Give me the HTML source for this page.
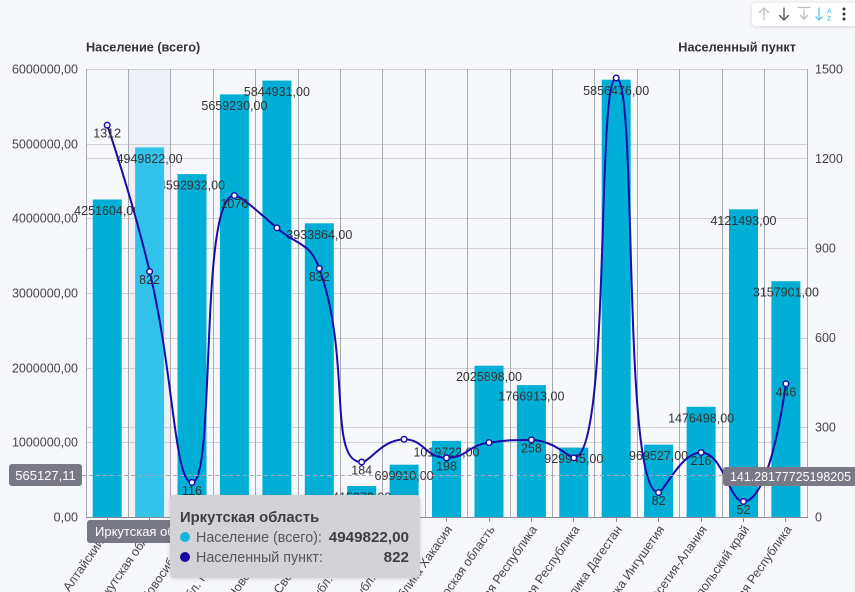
<!DOCTYPE html>
<html><head><meta charset="utf-8"><style>
html,body{margin:0;padding:0;background:#f7f8fc;width:855px;height:592px;overflow:hidden;}
svg{display:block;font-family:"Liberation Sans","Noto Sans CJK SC",sans-serif;}
</style></head><body>
<svg id="c" width="855" height="592" viewBox="0 0 855 592" xmlns="http://www.w3.org/2000/svg">
<defs>
<filter id="sh" x="-10%" y="-10%" width="120%" height="130%"><feDropShadow dx="0" dy="1" stdDeviation="2" flood-color="#000" flood-opacity="0.15"/></filter>
</defs>
<rect width="855" height="592" fill="#f7f8fc"/>
<rect x="128.4" y="69" width="42.4" height="448" fill="#eef0f8"/>
<g stroke="#d0d0d5" stroke-width="1">
<line x1="86" y1="69.5" x2="807" y2="69.5"/><line x1="86" y1="144.5" x2="807" y2="144.5"/><line x1="86" y1="218.5" x2="807" y2="218.5"/><line x1="86" y1="293.5" x2="807" y2="293.5"/><line x1="86" y1="368.5" x2="807" y2="368.5"/><line x1="86" y1="442.5" x2="807" y2="442.5"/>
<line x1="86" y1="158.5" x2="807" y2="158.5"/><line x1="86" y1="248.5" x2="807" y2="248.5"/><line x1="86" y1="338.5" x2="807" y2="338.5"/><line x1="86" y1="427.5" x2="807" y2="427.5"/>
</g>
<g stroke="#a9a9b2" stroke-width="1">
<line x1="86.5" y1="69" x2="86.5" y2="517"/><line x1="128.5" y1="69" x2="128.5" y2="517"/><line x1="170.5" y1="69" x2="170.5" y2="517"/><line x1="213.5" y1="69" x2="213.5" y2="517"/><line x1="255.5" y1="69" x2="255.5" y2="517"/><line x1="298.5" y1="69" x2="298.5" y2="517"/><line x1="340.5" y1="69" x2="340.5" y2="517"/><line x1="382.5" y1="69" x2="382.5" y2="517"/><line x1="425.5" y1="69" x2="425.5" y2="517"/><line x1="467.5" y1="69" x2="467.5" y2="517"/><line x1="510.5" y1="69" x2="510.5" y2="517"/><line x1="552.5" y1="69" x2="552.5" y2="517"/><line x1="594.5" y1="69" x2="594.5" y2="517"/><line x1="637.5" y1="69" x2="637.5" y2="517"/><line x1="679.5" y1="69" x2="679.5" y2="517"/><line x1="722.5" y1="69" x2="722.5" y2="517"/><line x1="764.5" y1="69" x2="764.5" y2="517"/><line x1="807.5" y1="69" x2="807.5" y2="517"/>
</g>
<line x1="86" y1="517.5" x2="808" y2="517.5" stroke="#8e8e96" stroke-width="1"/>
<g stroke="#8e8e96" stroke-width="1">
<line x1="107.5" y1="517" x2="107.5" y2="522"/><line x1="149.5" y1="517" x2="149.5" y2="522"/><line x1="192.5" y1="517" x2="192.5" y2="522"/><line x1="234.5" y1="517" x2="234.5" y2="522"/><line x1="276.5" y1="517" x2="276.5" y2="522"/><line x1="319.5" y1="517" x2="319.5" y2="522"/><line x1="361.5" y1="517" x2="361.5" y2="522"/><line x1="404.5" y1="517" x2="404.5" y2="522"/><line x1="446.5" y1="517" x2="446.5" y2="522"/><line x1="489.5" y1="517" x2="489.5" y2="522"/><line x1="531.5" y1="517" x2="531.5" y2="522"/><line x1="573.5" y1="517" x2="573.5" y2="522"/><line x1="616.5" y1="517" x2="616.5" y2="522"/><line x1="658.5" y1="517" x2="658.5" y2="522"/><line x1="701.5" y1="517" x2="701.5" y2="522"/><line x1="743.5" y1="517" x2="743.5" y2="522"/><line x1="785.5" y1="517" x2="785.5" y2="522"/>
</g>
<!-- axis labels -->
<g font-size="12.5" fill="#454545" text-anchor="end">
<text x="78" y="73.5">6000000,00</text><text x="78" y="148.5">5000000,00</text><text x="78" y="222.5">4000000,00</text><text x="78" y="297.5">3000000,00</text><text x="78" y="372.5">2000000,00</text><text x="78" y="446.5">1000000,00</text><text x="78" y="521.5">0,00</text>
</g>
<g font-size="12.5" fill="#454545">
<text x="815" y="73.5">1500</text><text x="815" y="163">1200</text><text x="815" y="252.5">900</text><text x="815" y="342">600</text><text x="815" y="431.5">300</text><text x="815" y="521.5">0</text>
</g>
<text x="86" y="51.5" font-size="12.7" font-weight="bold" fill="#333">Население (всего)</text>
<text x="796" y="51.5" font-size="12.7" font-weight="bold" fill="#333" text-anchor="end">Населенный пункт</text>
<!-- bars -->
<g fill="#00aed6">
<rect x="92.7" y="199.5" width="29" height="317.5"/>
<rect x="177.5" y="174.1" width="29" height="342.9"/>
<rect x="219.9" y="94.4" width="29" height="422.6"/>
<rect x="262.4" y="80.6" width="29" height="436.4"/>
<rect x="304.8" y="223.3" width="29" height="293.7"/>
<rect x="347.2" y="486" width="29" height="31"/>
<rect x="389.6" y="464.7" width="29" height="52.3"/>
<rect x="432" y="440.9" width="29" height="76.1"/>
<rect x="474.5" y="365.7" width="29" height="151.3"/>
<rect x="516.9" y="385.1" width="29" height="131.9"/>
<rect x="559.3" y="447.6" width="29" height="69.4"/>
<rect x="601.7" y="79.7" width="29" height="437.3"/>
<rect x="644.1" y="444.6" width="29" height="72.4"/>
<rect x="686.6" y="406.8" width="29" height="110.2"/>
<rect x="729" y="209.3" width="29" height="307.7"/>
<rect x="771.4" y="281.2" width="29" height="235.8"/>
</g>
<g font-size="12.5" fill="#333" text-anchor="middle">
<text x="107.2" y="215">4251604,00</text>
<text x="192" y="189.6">4592932,00</text>
<text x="234.4" y="110">5659230,00</text>
<text x="276.9" y="96">5844931,00</text>
<text x="319.3" y="238.8">3933864,00</text>
<text x="361.7" y="501.5">415372,00</text>
<text x="404.1" y="480.2">699910,00</text>
<text x="446.5" y="456.4">1019722,00</text>
<text x="489" y="381.2">2025898,00</text>
<text x="531.4" y="400.6">1766913,00</text>
<text x="573.8" y="463.1">929945,00</text>
<text x="616.2" y="95.2">5856476,00</text>
<text x="658.6" y="460.1">969527,00</text>
<text x="701.1" y="422.3">1476498,00</text>
<text x="743.5" y="224.8">4121493,00</text>
<text x="785.9" y="296.7">3157901,00</text>
</g>
<rect x="135.1" y="147.4" width="29" height="369.6" fill="#33c3ea"/>
<text x="149.6" y="163" font-size="12.5" fill="#333" text-anchor="middle">4949822,00</text>
<!-- line -->
<path id="ln" d="M107.2,125.2 L149.6,271.5 L192,482.4 L234.4,195.6 L276.9,227.9 L319.3,268.5 L361.7,462 L404.1,439.3 L446.5,457.9 L489,442.6 L531.4,439.9 L573.8,457.9 L616.2,78 L658.6,492.5 L701.1,452.5 L743.5,501.5 L785.9,383.8" fill="none" stroke="#1c0ca6" stroke-width="2"/>
<g fill="#fff" stroke="#1c0ca6" stroke-width="1.5">
<circle cx="107.2" cy="125.2" r="2.8"/><circle cx="149.6" cy="271.5" r="2.8"/><circle cx="192" cy="482.4" r="2.8"/><circle cx="234.4" cy="195.6" r="2.8"/><circle cx="276.9" cy="227.9" r="2.8"/><circle cx="319.3" cy="268.5" r="2.8"/><circle cx="361.7" cy="462" r="2.8"/><circle cx="404.1" cy="439.3" r="2.8"/><circle cx="446.5" cy="457.9" r="2.8"/><circle cx="489" cy="442.6" r="2.8"/><circle cx="531.4" cy="439.9" r="2.8"/><circle cx="573.8" cy="457.9" r="2.8"/><circle cx="616.2" cy="78" r="2.8"/><circle cx="658.6" cy="492.5" r="2.8"/><circle cx="701.1" cy="452.5" r="2.8"/><circle cx="743.5" cy="501.5" r="2.8"/><circle cx="785.9" cy="383.8" r="2.8"/>
</g>
<g font-size="12.5" fill="#333" text-anchor="middle">
<text x="107.2" y="137.7">1312</text><text x="149.6" y="284">822</text><text x="192" y="495">116</text><text x="234.4" y="208">1076</text><text x="319.3" y="281">832</text><text x="361.7" y="474.5">184</text><text x="446.5" y="470.4">198</text><text x="531.4" y="452.4">258</text><text x="658.6" y="505">82</text><text x="701.1" y="465">216</text><text x="743.5" y="514">52</text><text x="785.9" y="396.3">446</text>
</g>
<!-- crosshair -->
<line x1="82" y1="475.5" x2="808" y2="475.5" stroke="#a8a8ae" stroke-width="1" stroke-dasharray="4 3"/>
<!-- x labels -->
<g font-size="12.5" fill="#454545" text-anchor="end">
<text transform="translate(110,527) rotate(-55)" dy="4">Алтайский кр</text>
<text transform="translate(152.5,527) rotate(-55)" dy="4">Иркутская облас</text>
<text transform="translate(195,527) rotate(-55)" dy="4">Новосибирская</text>
<text transform="translate(237.4,527) rotate(-55)" dy="4">Обл. Красноярс.</text>
<text transform="translate(279.9,527) rotate(-55)" dy="4">Обл. Новосибирска.</text>
<text transform="translate(322.3,527) rotate(-55)" dy="4">Обл. Свердловска.</text>
<text transform="translate(364.7,527) rotate(-55)" dy="4">Республ. Тыва обл.</text>
<text transform="translate(407.1,527) rotate(-55)" dy="4">Республ. Алтай бл.</text>
<text transform="translate(449.5,527) rotate(-55)" dy="4">Республика Хакасия</text>
<text transform="translate(492,527) rotate(-55)" dy="4">Новосибирская область</text>
<text transform="translate(534.4,527) rotate(-55)" dy="4">Удмуртская Республика</text>
<text transform="translate(576.8,527) rotate(-55)" dy="4">Чувашская Республика</text>
<text transform="translate(619.2,527) rotate(-55)" dy="4">Республика Дагестан</text>
<text transform="translate(661.6,527) rotate(-55)" dy="4">Республика Ингушетия</text>
<text transform="translate(704.1,527) rotate(-55)" dy="4">Северная Осетия-Алания</text>
<text transform="translate(746.5,527) rotate(-55)" dy="4">Ставропольский край</text>
<text transform="translate(788.9,527) rotate(-55)" dy="4">Чеченская Республика</text>
</g>
<!-- pointer labels -->
<rect x="9" y="464" width="73" height="22" rx="3" fill="#797885"/>
<text x="45.5" y="480" font-size="13" fill="#fff" text-anchor="middle">565127,11</text>
<rect x="723" y="467" width="134" height="19" rx="3" fill="#797885"/>
<text x="730" y="481" font-size="13" fill="#fff" textLength="121" lengthAdjust="spacingAndGlyphs">141.28177725198205</text>
<rect x="87" y="520" width="124" height="23" rx="3" fill="#797885"/>
<text x="95" y="536" font-size="13" fill="#fff">Иркутская область</text>
<!-- tooltip -->
<rect x="170" y="495" width="250" height="83" rx="4" fill="#d3d3d7" filter="url(#sh)"/>
<text x="180" y="522" font-size="14.8" font-weight="bold" fill="#3e3e42">Иркутская область</text>
<circle cx="185" cy="537" r="5" fill="#16b5df"/>
<text x="196" y="542" font-size="14.3" fill="#55555b">Население (всего):</text>
<text x="409" y="542" font-size="15.2" font-weight="bold" fill="#3e3e46" text-anchor="end">4949822,00</text>
<circle cx="185" cy="557" r="5" fill="#17099e"/>
<text x="196" y="562" font-size="14.3" fill="#55555b">Населенный пункт:</text>
<text x="409" y="562" font-size="15.2" font-weight="bold" fill="#3e3e46" text-anchor="end">822</text>
<!-- toolbar -->
<rect x="752" y="3" width="106" height="23" rx="4" fill="#fff" filter="url(#sh)"/>
<g fill="none" stroke-width="1.3" stroke-linecap="round" stroke-linejoin="round">
<path d="M764,20 V8 M759.5,12.5 L764,8 L768.5,12.5" stroke="#c2c2c2"/>
<path d="M784,8 V20 M779.5,15.5 L784,20 L788.5,15.5" stroke="#555"/>
<path d="M798,7.5 H810 M804,10 V19 M800.5,15.5 L804,19 L807.5,15.5" stroke="#bdbdbd"/>
<path d="M819,8 V20 M816,17 L819,20 L822,17" stroke="#5ac8ea"/>
</g>
<text x="827" y="13" font-size="6.5" fill="#5ac8ea" font-weight="bold">A</text>
<text x="827" y="20.5" font-size="6.5" fill="#5ac8ea" font-weight="bold">Z</text>
<circle cx="844" cy="9" r="1.5" fill="#333"/><circle cx="844" cy="14" r="1.5" fill="#333"/><circle cx="844" cy="19" r="1.5" fill="#333"/>
</svg>
<script>
(function(){
var vals=[1312,822,116,1076,968,832,184,260,198,249,258,198,1470,82,216,52,446];
var w=721/17;
var pts=vals.map(function(v,i){return [86+w*(i+0.5),517-v*448/1500];});
var s=0.5;
var d='M'+pts[0][0].toFixed(2)+','+pts[0][1].toFixed(2);
var cpx0=pts[0][0],cpy0=pts[0][1];
for(var k=1;k<pts.length;k++){
 var x=pts[k][0],y=pts[k][1],px=pts[k-1][0],py=pts[k-1][1];
 var cpx1,cpy1,ncx=x,ncy=y;
 if(k===pts.length-1){cpx1=x;cpy1=y;}
 else{
  var nx=pts[k+1][0],ny=pts[k+1][1];
  var vx=nx-px,vy=ny-py;
  var lp=Math.hypot(x-px,y-py),lnn=Math.hypot(nx-x,ny-y);
  var r=lnn/(lnn+lp);
  ncx=x+vx*s*r;ncy=y+vy*s*r;
  ncx=Math.min(ncx,Math.max(nx,x));ncy=Math.min(ncy,Math.max(ny,y));
  ncx=Math.max(ncx,Math.min(nx,x));ncy=Math.max(ncy,Math.min(ny,y));
  vx=ncx-x;vy=ncy-y;
  cpx1=x-vx*lp/lnn;cpy1=y-vy*lp/lnn;
  cpx1=Math.min(cpx1,Math.max(px,x));cpy1=Math.min(cpy1,Math.max(py,y));
  cpx1=Math.max(cpx1,Math.min(px,x));cpy1=Math.max(cpy1,Math.min(py,y));
  vx=x-cpx1;vy=y-cpy1;
  ncx=x+vx*lnn/lp;ncy=y+vy*lnn/lp;
 }
 d+=' C'+cpx0.toFixed(2)+','+cpy0.toFixed(2)+' '+cpx1.toFixed(2)+','+cpy1.toFixed(2)+' '+x.toFixed(2)+','+y.toFixed(2);
 cpx0=ncx;cpy0=ncy;
}
document.getElementById('ln').setAttribute('d',d);
})();
</script>
</body></html>
